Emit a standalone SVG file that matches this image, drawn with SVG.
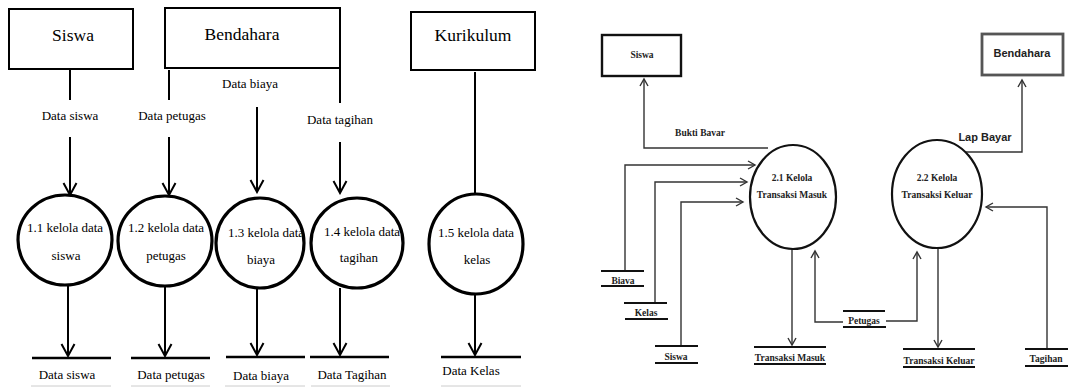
<svg xmlns="http://www.w3.org/2000/svg" width="1069" height="387" viewBox="0 0 1069 387">
<style>
.bg{fill:#fff}
.ebox{fill:#fff;stroke:#000;stroke-width:2}
.proc{fill:#fff;stroke:#000;stroke-width:3.2}
.flow{fill:none;stroke:#000;stroke-width:2}
.store{stroke:#000;stroke-width:2.6}
.under{stroke:#ccc;stroke-width:1}
.t1{font-family:'Liberation Serif','Times New Roman',Tinos,'DejaVu Serif',serif;fill:#000}
.big{font-size:17.5px}
.mid{font-size:13px}
.rflow{fill:none;stroke:#333;stroke-width:1.4}
.rstore{stroke:#111;stroke-width:2.2}
.rproc{fill:#fff;stroke:#111;stroke-width:2.2}
.rbox{fill:#fff;stroke:#111;stroke-width:2.4}
.rbox2{fill:#fff;stroke:#555;stroke-width:2.8}
.t2{font-family:'Liberation Serif','Times New Roman',Tinos,'DejaVu Serif',serif;font-weight:bold;fill:#222;font-size:9.5px}
.t3{font-family:'Liberation Sans',Arial,sans-serif;font-weight:bold;fill:#222;font-size:11px}
</style>
<defs>
<marker id="aL" markerUnits="userSpaceOnUse" markerWidth="16" markerHeight="16" viewBox="-14 -8 16 16" refX="0" refY="0" orient="auto">
<path d="M-12,-6.5 L0,0 L-12,6.5" fill="none" stroke="#000" stroke-width="2"/>
</marker>
<marker id="aR" markerUnits="userSpaceOnUse" markerWidth="12" markerHeight="12" viewBox="-9 -6 12 12" refX="0" refY="0" orient="auto">
<path d="M-7,-4 L0,0 L-7,4" fill="none" stroke="#333" stroke-width="1.4"/>
</marker>
</defs>
<rect class="bg" x="0" y="0" width="1069" height="387"/>

<g id="connectors">
<line class="flow" x1="70" y1="69" x2="70" y2="100"/>
<line class="flow" x1="70" y1="137" x2="70" y2="195" marker-end="url(#aL)"/>
<line class="flow" x1="169" y1="70" x2="169" y2="100"/>
<line class="flow" x1="169" y1="137" x2="169" y2="195" marker-end="url(#aL)"/>
<line class="flow" x1="257" y1="107" x2="257" y2="192" marker-end="url(#aL)"/>
<line class="flow" x1="340" y1="68" x2="340" y2="103"/>
<line class="flow" x1="340" y1="142" x2="340" y2="193" marker-end="url(#aL)"/>
<line class="flow" x1="475" y1="72" x2="475" y2="206" marker-end="url(#aL)"/>
<line class="flow" x1="68" y1="286" x2="68" y2="356" marker-end="url(#aL)"/>
<line class="flow" x1="165" y1="287" x2="165" y2="356" marker-end="url(#aL)"/>
<line class="flow" x1="257" y1="288" x2="257" y2="355" marker-end="url(#aL)"/>
<line class="flow" x1="340" y1="288" x2="340" y2="355" marker-end="url(#aL)"/>
<line class="flow" x1="475" y1="294" x2="475" y2="355" marker-end="url(#aL)"/>
<polyline class="rflow" points="768,148 644,148 644,79" marker-end="url(#aR)"/>
<polyline class="rflow" points="625,271 625,165 755,165" marker-end="url(#aR)"/>
<polyline class="rflow" points="655,303 655,182 747,182" marker-end="url(#aR)"/>
<polyline class="rflow" points="681,346 681,202 743,202" marker-end="url(#aR)"/>
<line class="rflow" x1="792" y1="248" x2="792" y2="345" marker-end="url(#aR)"/>
<polyline class="rflow" points="843,322 815,322 815,251" marker-end="url(#aR)"/>
<polyline class="rflow" points="886,321 917,321 917,252" marker-end="url(#aR)"/>
<polyline class="rflow" points="965,152 1022,152 1022,80" marker-end="url(#aR)"/>
<line class="rflow" x1="938" y1="248" x2="938" y2="347" marker-end="url(#aR)"/>
<polyline class="rflow" points="1047,349 1047,207 986,207" marker-end="url(#aR)"/>
</g>

<g id="flow-labels">
<text class="t1 mid" x="70" y="120" text-anchor="middle">Data siswa</text>
<text class="t1 mid" x="172" y="120" text-anchor="middle">Data petugas</text>
<text class="t1 mid" x="250" y="88" text-anchor="middle">Data biaya</text>
<text class="t1 mid" x="340" y="124" text-anchor="middle">Data tagihan</text>
<text class="t2" x="700" y="136" text-anchor="middle">Bukti Bavar</text>
<text class="t3" x="985" y="141" text-anchor="middle">Lap Bayar</text>
</g>

<g id="siswa-left">
<rect class="ebox" x="9" y="9" width="124" height="60"/>
<text class="t1 big" x="73" y="41" text-anchor="middle">Siswa</text>
</g>
<g id="bendahara-left">
<rect class="ebox" x="165" y="8" width="175" height="60"/>
<text class="t1 big" x="242" y="40" text-anchor="middle">Bendahara</text>
</g>
<g id="kurikulum">
<rect class="ebox" x="411" y="12" width="124" height="58"/>
<text class="t1 big" x="473" y="41" text-anchor="middle">Kurikulum</text>
</g>

<g id="p1-1">
<ellipse class="proc" cx="65" cy="240" rx="47" ry="45"/>
<text class="t1 mid" x="65" y="232" text-anchor="middle">1.1 kelola data</text>
<text class="t1 mid" x="66" y="260" text-anchor="middle">siswa</text>
</g>
<g id="p1-2">
<ellipse class="proc" cx="165" cy="241" rx="47" ry="45"/>
<text class="t1 mid" x="166" y="232" text-anchor="middle">1.2  kelola data</text>
<text class="t1 mid" x="166" y="260" text-anchor="middle">petugas</text>
</g>
<g id="p1-3">
<ellipse class="proc" cx="260" cy="243" rx="44" ry="45"/>
<text class="t1 mid" x="266" y="237" text-anchor="middle">1.3  kelola data</text>
<text class="t1 mid" x="261" y="264" text-anchor="middle">biaya</text>
</g>
<g id="p1-4">
<ellipse class="proc" cx="357" cy="243" rx="46" ry="45"/>
<text class="t1 mid" x="362" y="236" text-anchor="middle">1.4  kelola data</text>
<text class="t1 mid" x="359" y="262" text-anchor="middle">tagihan</text>
</g>
<g id="p1-5">
<ellipse class="proc" cx="476" cy="244" rx="47" ry="50"/>
<text class="t1 mid" x="476" y="237" text-anchor="middle">1.5  kelola data</text>
<text class="t1 mid" x="477" y="264" text-anchor="middle">kelas</text>
</g>

<g id="ds-siswa">
<line class="store" x1="32" y1="358" x2="111" y2="358"/>
<text class="t1 mid" x="67" y="379" text-anchor="middle">Data siswa</text>
<line class="under" x1="31" y1="386" x2="111" y2="386"/>
</g>
<g id="ds-petugas">
<line class="store" x1="131" y1="358" x2="210" y2="358"/>
<text class="t1 mid" x="171" y="379" text-anchor="middle">Data petugas</text>
<line class="under" x1="131" y1="386" x2="210" y2="386"/>
</g>
<g id="ds-biaya">
<line class="store" x1="226" y1="357" x2="305" y2="357"/>
<text class="t1 mid" x="261" y="380" text-anchor="middle">Data biaya</text>
<line class="under" x1="225" y1="386" x2="305" y2="386"/>
</g>
<g id="ds-tagihan">
<line class="store" x1="310" y1="357" x2="389" y2="357"/>
<text class="t1 mid" x="352" y="379" text-anchor="middle">Data Tagihan</text>
<line class="under" x1="311" y1="386" x2="390" y2="386"/>
</g>
<g id="ds-kelas">
<line class="store" x1="441" y1="357" x2="521" y2="357"/>
<text class="t1 mid" x="471" y="375" text-anchor="middle">Data Kelas</text>
<line class="under" x1="441" y1="386" x2="521" y2="386"/>
</g>

<g id="siswa-right">
<rect class="rbox" x="602" y="35" width="79" height="41"/>
<text class="t2" x="642" y="58" text-anchor="middle">Siswa</text>
</g>
<g id="bendahara-right">
<rect class="rbox2" x="982" y="34" width="81" height="41"/>
<text class="t3" x="1022" y="57" text-anchor="middle">Bendahara</text>
</g>
<g id="p2-1">
<ellipse class="rproc" cx="793" cy="197" rx="43" ry="52"/>
<text class="t2" x="792" y="181" text-anchor="middle">2.1 Kelola</text>
<text class="t2" x="792" y="198" text-anchor="middle">Transaksi Masuk</text>
</g>
<g id="p2-2">
<ellipse class="rproc" cx="937" cy="194" rx="45" ry="54"/>
<text class="t2" x="937" y="181" text-anchor="middle">2.2 Kelola</text>
<text class="t2" x="937" y="198" text-anchor="middle">Transaksi Keluar</text>
</g>
<g id="ds-biaya-r">
<line class="rstore" x1="601" y1="271" x2="644" y2="271"/>
<line class="rstore" x1="601" y1="286" x2="644" y2="286"/>
<text class="t2" x="623" y="284" text-anchor="middle">Biava</text>
</g>
<g id="ds-kelas-r">
<line class="rstore" x1="624" y1="303" x2="667" y2="303"/>
<line class="rstore" x1="625" y1="319" x2="668" y2="319"/>
<text class="t2" x="646" y="316" text-anchor="middle">Kelas</text>
</g>
<g id="ds-siswa-r">
<line class="rstore" x1="655" y1="346" x2="698" y2="346"/>
<line class="rstore" x1="655" y1="363" x2="698" y2="363"/>
<text class="t2" x="676" y="360" text-anchor="middle">Siswa</text>
</g>
<g id="ds-transaksi-masuk">
<line class="rstore" x1="754" y1="347" x2="826" y2="347"/>
<line class="rstore" x1="754" y1="364" x2="826" y2="364"/>
<text class="t2" x="790" y="361" text-anchor="middle">Transaksi Masuk</text>
</g>
<g id="ds-petugas-r">
<line class="rstore" x1="843" y1="311" x2="885" y2="311"/>
<line class="rstore" x1="843" y1="327" x2="886" y2="327"/>
<text class="t2" x="864" y="324" text-anchor="middle">Petugas</text>
</g>
<g id="ds-transaksi-keluar">
<line class="rstore" x1="903" y1="349" x2="975" y2="349"/>
<line class="rstore" x1="903" y1="367" x2="975" y2="367"/>
<text class="t2" x="939" y="364" text-anchor="middle">Transaksi Keluar</text>
</g>
<g id="ds-tagihan-r">
<line class="rstore" x1="1025" y1="349" x2="1068" y2="349"/>
<line class="rstore" x1="1025" y1="366" x2="1068" y2="366"/>
<text class="t2" x="1046" y="362" text-anchor="middle">Tagihan</text>
</g>
</svg>
